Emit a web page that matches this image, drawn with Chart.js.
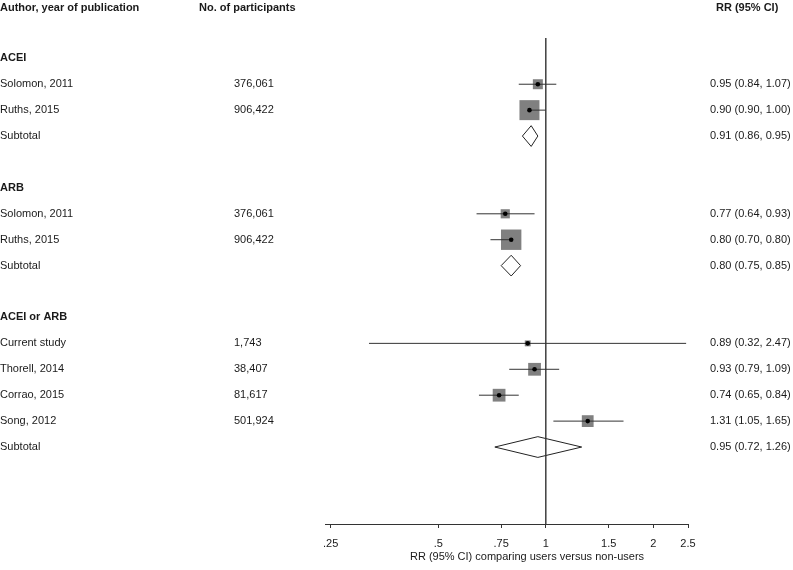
<!DOCTYPE html>
<html>
<head>
<meta charset="utf-8">
<script src="https://cdn.jsdelivr.net/npm/chart.js@4/dist/chart.umd.min.js"></script>
<style>
html,body{margin:0;padding:0;background:#fff;}
#wrap{width:793px;height:570px;position:relative;}
</style>
</head>
<body>
<div id="wrap"><canvas id="c" width="793" height="570"></canvas></div>
<script>
// ---- data ----
const columnHeaders = ['Author, year of publication', 'No. of participants', 'RR (95% CI)'];
const rowLabels = ['ACEI', 'Solomon, 2011', 'Ruths, 2015', 'Subtotal', '',
                   'ARB', 'Solomon, 2011', 'Ruths, 2015', 'Subtotal', '',
                   'ACEI or ARB', 'Current study', 'Thorell, 2014', 'Corrao, 2015', 'Song, 2012', 'Subtotal'];
const rowKinds = ['group', 'study', 'study', 'subtotal', 'blank',
                  'group', 'study', 'study', 'subtotal', 'blank',
                  'group', 'study', 'study', 'study', 'study', 'subtotal'];
const participants = ['', '376,061', '906,422', '', '',
                      '', '376,061', '906,422', '', '',
                      '', '1,743', '38,407', '81,617', '501,924', ''];
const rr =    [null, 0.95, 0.90, 0.91, null, null, 0.77, 0.80, 0.80, null, null, 0.89, 0.93, 0.74, 1.31, 0.95];
const ciLow = [null, 0.84, 0.90, 0.86, null, null, 0.64, 0.70, 0.75, null, null, 0.32, 0.79, 0.65, 1.05, 0.72];
const ciHigh =[null, 1.07, 1.00, 0.95, null, null, 0.93, 0.80, 0.85, null, null, 2.47, 1.09, 0.84, 1.65, 1.26];
const weights = [null, 20.0, 80.0, null, null, null, 16.8, 83.2, null, null, null, 7.0, 32.6, 32.6, 27.8, null]; // % weight within group
const tickValues = [0.25, 0.5, 0.75, 1, 1.5, 2, 2.5];
const tickLabels = ['.25', '.5', '.75', '1', '1.5', '2', '2.5'];
const axisTitle = 'RR (95% CI) comparing users versus non-users';
const nullValue = 1;

// ---- build datasets ----
const FONT = '"Liberation Sans", Arial, sans-serif';
const TXT = '#1a1a1a';
const datasets = [];
const squares = [], dots = [], squareRadius = [];
rowKinds.forEach((k, i) => {
  if (k === 'study') {
    squares.push({x: rr[i], y: i});
    squareRadius.push(Math.sqrt(5 * weights[i]) / Math.SQRT2);
    dots.push({x: rr[i], y: i});
    datasets.push({type: 'scatter', data: [{x: ciLow[i], y: i}, {x: ciHigh[i], y: i}],
      showLine: true, borderColor: '#333', borderWidth: 1, pointRadius: 0, order: 2});
  } else if (k === 'subtotal') {
    datasets.push({type: 'scatter', data: [
      {x: ciLow[i], y: i}, {x: rr[i], y: i - 0.4}, {x: ciHigh[i], y: i}, {x: rr[i], y: i + 0.4}, {x: ciLow[i], y: i}],
      showLine: true, borderColor: '#222', borderWidth: 1, pointRadius: 0, tension: 0,
      fill: false, order: 2});
  }
});
datasets.push({type: 'scatter', data: squares, pointStyle: 'rect', pointRadius: squareRadius,
  pointBackgroundColor: '#808080', pointBorderWidth: 0, borderWidth: 0, order: 3});
datasets.push({type: 'scatter', data: dots, pointStyle: 'circle', pointRadius: 2.3,
  pointBackgroundColor: '#000', pointBorderWidth: 0, borderWidth: 0, order: 1});
datasets.push({type: 'scatter', data: [{x: nullValue, y: -0.78}, {x: nullValue, y: 17.97}],
  showLine: true, borderColor: '#333', borderWidth: 1.4, pointRadius: 0, order: 0});

const textPlugin = {
  id: 'forestText',
  afterDraw(chart) {
    const ctx = chart.ctx;
    const ys = chart.scales.y;
    ctx.save();
    ctx.fillStyle = TXT;
    ctx.textBaseline = 'middle';
    ctx.textAlign = 'left';
    const hy = ys.getPixelForValue(-1.95);
    ctx.font = 'bold 11px ' + FONT;
    ctx.fillText(columnHeaders[0], 0, hy);
    ctx.fillText(columnHeaders[1], 199, hy);
    ctx.fillText(columnHeaders[2], 716, hy);
    rowLabels.forEach((lab, i) => {
      const y = ys.getPixelForValue(i);
      if (rowKinds[i] === 'blank') return;
      ctx.font = (rowKinds[i] === 'group' ? 'bold ' : '') + '11px ' + FONT;
      ctx.fillText(lab, 0, y);
      ctx.font = '11px ' + FONT;
      if (participants[i]) ctx.fillText(participants[i], 234, y);
      if (rr[i] !== null) {
        ctx.fillText(rr[i].toFixed(2) + ' (' + ciLow[i].toFixed(2) + ', ' + ciHigh[i].toFixed(2) + ')', 710, y);
      }
    });
    ctx.textAlign = 'center';
    ctx.fillText(axisTitle, 527, 556.5);
    ctx.restore();
  }
};

new Chart(document.getElementById('c'), {
  type: 'scatter',
  data: {datasets},
  options: {
    responsive: false,
    animation: false,
    devicePixelRatio: 1,
    layout: {autoPadding: false, padding: {left: 325, right: 105, top: 0, bottom: 0}},
    plugins: {legend: {display: false}, tooltip: {enabled: false}},
    scales: {
      x: {
        type: 'logarithmic',
        min: 0.241, max: 2.5,
        afterBuildTicks(scale) { scale.ticks = tickValues.map(v => ({value: v})); },
        afterFit(scale) { scale.height = 46; },
        ticks: {
          autoSkip: false, maxRotation: 0, minRotation: 0, padding: 9,
          color: TXT, font: {family: FONT, size: 11},
          callback: (v, i) => tickLabels[i]
        },
        grid: {drawOnChartArea: false, drawTicks: true, tickLength: 4, color: '#333', tickColor: '#333'},
        border: {display: true, color: '#333', width: 1}
      },
      y: {type: 'linear', reverse: true, min: -2.25, max: 17.97, display: false}
    }
  },
  plugins: [textPlugin]
});
</script>
</body>
</html>
